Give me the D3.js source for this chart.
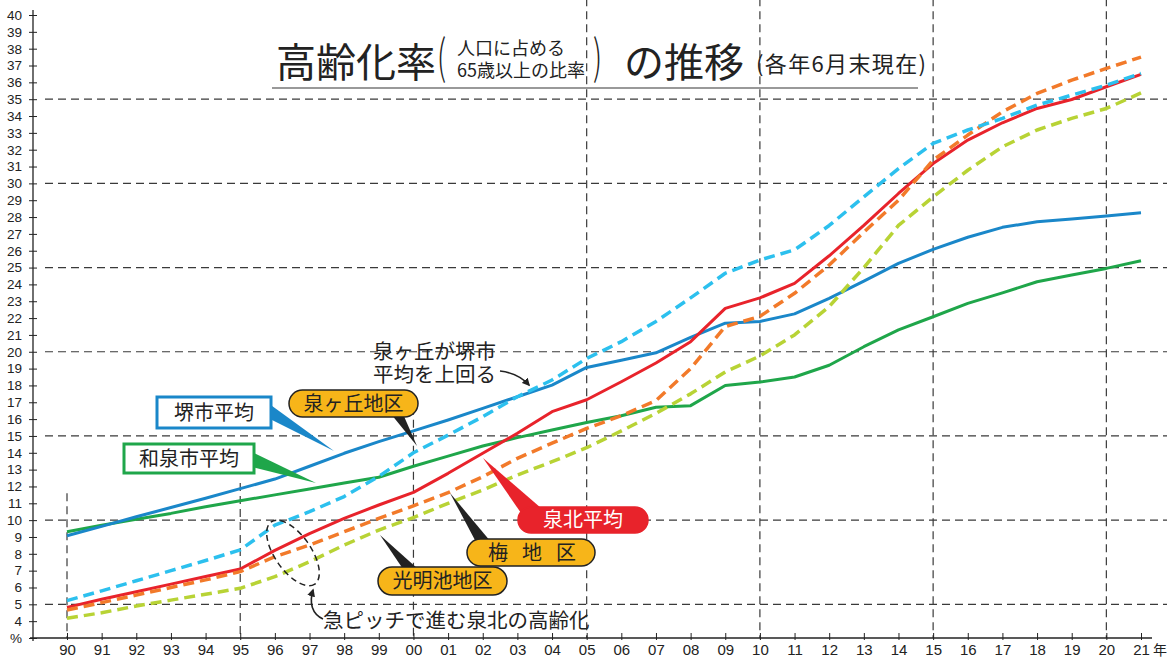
<!DOCTYPE html>
<html>
<head>
<meta charset="utf-8">
<script src="https://cdn.jsdelivr.net/npm/d3@7"></script>
<style>
  body { margin: 0; background: #fff; }
  svg { display: block; font-family: "Noto Sans CJK JP", "Noto Sans", sans-serif; }
</style>
</head>
<body>
<div id="chart"></div>
<script>
// data
const years = d3.range(1990, 2022);
const yearLabels = years.map(d => String(d % 100).padStart(2, "0"));
const yTicks = d3.range(3, 41);
const gridValues = [5, 10, 15, 20, 25, 30, 35];
const gridYears = [1990, 1995, 2000, 2005, 2010, 2015, 2020];

const sakaiAvg = [9.07, 9.63, 10.2, 10.75, 11.3, 11.87, 12.44, 13.2, 13.97, 14.66, 15.3, 15.95, 16.64, 17.33, 18.02, 19.07,
  19.5, 19.94, 20.85, 21.7, 21.8, 22.25, 23.17, 24.2, 25.25, 26.08, 26.8, 27.39, 27.72, 27.88, 28.06, 28.26];
const izumiAvg = [9.31, 9.7, 10.05, 10.4, 10.8, 11.15, 11.5, 11.85, 12.2, 12.55, 13.2, 13.8, 14.4, 14.9, 15.35, 15.8,
  16.2, 16.7, 16.8, 18.0, 18.2, 18.5, 19.2, 20.3, 21.3, 22.08, 22.87, 23.5, 24.16, 24.56, 24.95, 25.4];
const senbokuAvg = [4.82, 5.3, 5.75, 6.2, 6.65, 7.1, 8.2, 9.2, 10.1, 10.9, 11.65, 12.78, 13.97, 15.16, 16.44, 17.15,
  18.22, 19.33, 20.6, 22.58, 23.2, 24.06, 25.7, 27.5, 29.4, 31.18, 32.57, 33.6, 34.45, 34.98, 35.74, 36.47];
const izumigaoka = [5.22, 5.8, 6.4, 7.0, 7.6, 8.23, 9.7, 10.5, 11.4, 12.6, 14.0, 15.05, 16.14, 17.33, 18.32, 19.6,
  20.6, 21.8, 23.2, 24.66, 25.45, 26.05, 27.5, 29.2, 30.88, 32.37, 33.17, 33.86, 34.65, 35.24, 35.83, 36.53];
const umeChiku = [4.66, 5.1, 5.55, 6.0, 6.45, 6.94, 7.83, 8.52, 9.31, 10.1, 10.85, 11.63, 12.58, 13.67, 14.57, 15.45,
  16.2, 17.1, 19.0, 21.5, 22.1, 23.47, 25.15, 27.1, 29.0, 31.38, 32.87, 34.25, 35.34, 36.13, 36.83, 37.5];
const komyoike = [4.17, 4.5, 4.9, 5.25, 5.6, 5.95, 6.64, 7.53, 8.52, 9.41, 10.15, 11.0, 11.79, 12.68, 13.47, 14.3,
  15.3, 16.34, 17.5, 18.8, 19.75, 21.0, 22.68, 25.0, 27.5, 29.2, 30.78, 32.17, 33.17, 33.86, 34.45, 35.37];

// draw order: solid lines first, dashed on top
const series = [
  { values: izumiAvg, color: "#1fa64a", dash: null },
  { values: sakaiAvg, color: "#1a87c9", dash: null },
  { values: senbokuAvg, color: "#e8232b", dash: null },
  { values: umeChiku, color: "#f27a2a", dash: "11,6" },
  { values: komyoike, color: "#b8d335", dash: "11,6" },
  { values: izumigaoka, color: "#2cc0ee", dash: "11,6" }
];

const width = 1167;
const height = 670;

const svg = d3.select("#chart")
  .append("svg")
  .attr("width", width)
  .attr("height", height);

const x = d3.scaleLinear().domain([1990, 2021]).range([67, 1141]);
const y = d3.scaleLinear().domain([3, 40]).range([638, 15]);

svg.append("defs").append("marker")
  .attr("id", "arrow")
  .attr("viewBox", "0 0 10 10")
  .attr("refX", 8).attr("refY", 5)
  .attr("markerWidth", 5).attr("markerHeight", 5)
  .attr("orient", "auto")
  .append("path")
  .attr("d", "M0,0 L10,5 L0,10 Z")
  .attr("fill", "#222");

// grid
svg.append("g").selectAll("line")
  .data(gridValues)
  .join("line")
  .attr("x1", 45).attr("x2", width)
  .attr("y1", d => y(d)).attr("y2", d => y(d))
  .attr("stroke", "#3a3a3a").attr("stroke-width", 1.2)
  .attr("stroke-dasharray", "8,5");

const gridTop = [11.6, 12.2, 17.5, 41, 41, 41, 41];
svg.append("g").selectAll("line")
  .data(gridYears)
  .join("line")
  .attr("x1", d => x(d)).attr("x2", d => x(d))
  .attr("y1", (d, i) => y(gridTop[i])).attr("y2", y(3))
  .attr("stroke", "#3a3a3a").attr("stroke-width", 1.2)
  .attr("stroke-dasharray", "8,5");

// axes
const yAxis = svg.append("g")
  .attr("transform", "translate(33,0)")
  .call(d3.axisLeft(y).tickValues(yTicks).tickSize(4).tickPadding(7)
    .tickFormat(d => d === 3 ? "%" : d));
yAxis.select(".domain").remove();
yAxis.selectAll(".tick line").attr("x1", -4).attr("x2", 4).attr("stroke", "#222");
yAxis.selectAll("text").attr("font-size", 13.5).attr("fill", "#222")
  .attr("font-family", "'Liberation Sans', sans-serif");
svg.append("line")
  .attr("x1", 33).attr("x2", 33).attr("y1", 10).attr("y2", y(3) + 3)
  .attr("stroke", "#222").attr("stroke-width", 1.3);

const xAxis = svg.append("g")
  .attr("transform", `translate(0,${y(3)})`)
  .call(d3.axisBottom(x).tickValues(years).tickSizeInner(-5).tickSizeOuter(0).tickPadding(6)
    .tickFormat((d, i) => yearLabels[i]));
xAxis.select(".domain").remove();
xAxis.selectAll(".tick line").attr("y1", 2).attr("stroke", "#222");
xAxis.selectAll("text").attr("font-size", 15).attr("fill", "#222")
  .attr("font-family", "'Liberation Sans', sans-serif");
svg.append("line")
  .attr("x1", 30).attr("x2", 1152).attr("y1", y(3)).attr("y2", y(3))
  .attr("stroke", "#222").attr("stroke-width", 1.3);
svg.append("text")
  .attr("x", 1160).attr("y", 655)
  .attr("text-anchor", "middle")
  .attr("font-size", 14).attr("fill", "#222")
  .text("年");

// lines
const line = d3.line()
  .x((d, i) => x(years[i]))
  .y(d => y(d));

svg.append("g").selectAll("path")
  .data(series)
  .join("path")
  .attr("d", d => line(d.values))
  .attr("fill", "none")
  .attr("stroke", d => d.color)
  .attr("stroke-width", d => d.dash ? 3.5 : 3)
  .attr("stroke-dasharray", d => d.dash)
  .attr("stroke-linejoin", "round");

// title
const title = svg.append("g").attr("fill", "#222");
title.append("text").attr("x", 276).attr("y", 77).attr("font-size", 40).text("高齢化率");
title.append("text").attr("transform", "translate(437,74) scale(0.8,1.3)")
  .attr("font-size", 36).attr("font-weight", 300).text("(");
title.append("text").attr("x", 457).attr("y", 55).attr("font-size", 18).text("人口に占める");
title.append("text").attr("x", 457).attr("y", 77).attr("font-size", 18).text("65歳以上の比率");
title.append("text").attr("transform", "translate(593,74) scale(0.8,1.3)")
  .attr("font-size", 36).attr("font-weight", 300).text(")");
title.append("text").attr("x", 624).attr("y", 77).attr("font-size", 40).text("の推移");
title.append("text").attr("x", 756).attr("y", 72).attr("font-size", 22)
  .attr("textLength", 170).attr("lengthAdjust", "spacing").text("(各年6月末現在)");
svg.append("line")
  .attr("x1", 272).attr("x2", 918).attr("y1", 88).attr("y2", 88)
  .attr("stroke", "#777").attr("stroke-width", 1.5);

// annotations
function wedge(points, color) {
  svg.append("polygon")
    .attr("points", points.map(p => p.join(",")).join(" "))
    .attr("fill", color);
}

function box(x0, y0, w, h, color, label) {
  svg.append("rect")
    .attr("x", x0).attr("y", y0).attr("width", w).attr("height", h)
    .attr("fill", "#fff").attr("stroke", color).attr("stroke-width", 3);
  svg.append("text")
    .attr("x", x0 + w / 2).attr("y", y0 + h / 2 + 7)
    .attr("text-anchor", "middle").attr("font-size", 20).attr("fill", "#222")
    .text(label);
}

function pill(x0, y0, w, h, fill, stroke, textColor, label) {
  svg.append("rect")
    .attr("x", x0).attr("y", y0).attr("width", w).attr("height", h)
    .attr("rx", h / 2).attr("ry", h / 2)
    .attr("fill", fill).attr("stroke", stroke).attr("stroke-width", 1.5);
  svg.append("text")
    .attr("x", x0 + w / 2).attr("y", y0 + h / 2 + 7)
    .attr("text-anchor", "middle").attr("font-size", 20).attr("fill", textColor)
    .text(label);
}

wedge([[268, 403], [268, 418], [334, 451]], "#1a87c9");
box(157, 397, 114, 31, "#1a87c9", "堺市平均");

wedge([[252, 452], [252, 467], [316, 483]], "#1fa64a");
box(124, 444, 130, 29, "#1fa64a", "和泉市平均");

wedge([[391, 414], [403, 414], [417, 446]], "#222");
pill(289, 390, 129, 27, "#f7b519", "#222", "#222", "泉ヶ丘地区");

wedge([[521, 513], [541, 508], [483, 458]], "#e8232b");
pill(518, 507, 130, 26, "#e8232b", "#e8232b", "#fff", "泉北平均");

wedge([[476, 542], [491, 542], [450, 493]], "#222");
pill(467, 539, 128, 27, "#f7b519", "#222", "#222", "");
["梅", "地", "区"].forEach((c, i) => {
  svg.append("text")
    .attr("x", 498 + i * 34).attr("y", 560)
    .attr("text-anchor", "middle").attr("font-size", 20).attr("fill", "#222")
    .text(c);
});

wedge([[403, 569], [418, 569], [380, 535]], "#222");
pill(378, 567, 129, 28, "#f7b519", "#222", "#222", "光明池地区");

// 泉ヶ丘が堺市平均を上回る
svg.append("text").attr("x", 373).attr("y", 359)
  .attr("font-size", 20.5).attr("fill", "#222").text("泉ヶ丘が堺市");
svg.append("text").attr("x", 373).attr("y", 382)
  .attr("font-size", 20.5).attr("fill", "#222").text("平均を上回る");
svg.append("path")
  .attr("d", "M500,371 Q518,373 529,385")
  .attr("fill", "none").attr("stroke", "#222").attr("stroke-width", 1.6)
  .attr("marker-end", "url(#arrow)");

// 急ピッチ ellipse
svg.append("ellipse")
  .attr("cx", 293).attr("cy", 553).attr("rx", 38).attr("ry", 18)
  .attr("transform", "rotate(55,293,553)")
  .attr("fill", "none").attr("stroke", "#222").attr("stroke-width", 1.5)
  .attr("stroke-dasharray", "6,4");
svg.append("path")
  .attr("d", "M323,619 C312,614 309,603 313,590")
  .attr("fill", "none").attr("stroke", "#222").attr("stroke-width", 1.6)
  .attr("marker-end", "url(#arrow)");
svg.append("text").attr("x", 323).attr("y", 628)
  .attr("font-size", 20.5).attr("fill", "#222").text("急ピッチで進む泉北の高齢化");
</script>
</body>
</html>
